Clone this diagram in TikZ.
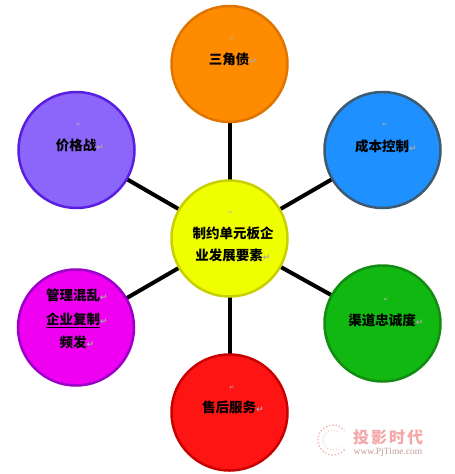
\documentclass[tikz,border=0pt]{standalone}
\usepackage{fontspec}
\usetikzlibrary{backgrounds}
\newfontfamily\cjk{Noto Sans CJK SC}
\newfontfamily\sym{DejaVu Sans}
\newfontfamily\wmserif{Liberation Serif}
\definecolor{hubfill}{HTML}{F0FF00}  \definecolor{hubline}{HTML}{C8D000}
\definecolor{orgfill}{HTML}{FF8C00}  \definecolor{orgline}{HTML}{E07400}
\definecolor{blufill}{HTML}{1E90FF}  \definecolor{bluline}{HTML}{3E5A6E}
\definecolor{prpfill}{HTML}{8C66FA}  \definecolor{prpline}{HTML}{5A1EE0}
\definecolor{magfill}{HTML}{F000F0}  \definecolor{magline}{HTML}{9C00C8}
\definecolor{grnfill}{HTML}{12B812}  \definecolor{grnline}{HTML}{128C12}
\definecolor{redfill}{HTML}{FF1414}  \definecolor{redline}{HTML}{C80000}
\definecolor{retgray}{HTML}{A8A8A8}
\definecolor{wmpink}{HTML}{F2A8A8}
\newcommand{\ret}{{\sym\color{retgray}\fontsize{9}{9}\selectfont ↵}}
\begin{document}
\begin{tikzpicture}[x=1pt,y=-1pt,
	bubble/.style={circle,minimum size=116pt,line width=2.5pt,inner sep=0pt},
	spoke/.style={line width=4pt,black},
	tagtext/.style={font=\cjk\bfseries\fontsize{13.5}{22}\selectfont,align=center,inner sep=0pt},
	retmark/.style={font=\sym\fontsize{6}{6}\selectfont,text=retgray!80,inner sep=0pt}]
\useasboundingbox (0,0) rectangle (455,474);
% circles
\node[bubble,fill=hubfill,draw=hubline] (hub) at (229.5,238.5) {};
\node[bubble,fill=orgfill,draw=orgline] (debt) at (229.5,64) {};
\node[bubble,fill=blufill,draw=bluline] (cost) at (382.5,150) {};
\node[bubble,fill=prpfill,draw=prpline] (price) at (76.5,150) {};
\node[bubble,fill=magfill,draw=magline] (manage) at (76,327.5) {};
\node[bubble,fill=grnfill,draw=grnline] (channel) at (382.5,323.5) {};
\node[bubble,fill=redfill,draw=redline] (service) at (229.5,412.5) {};
% spokes
\begin{scope}[on background layer]
\foreach \n in {debt,cost,price,manage,channel,service}
	\draw[spoke] (hub.center) -- (\n.center);
\end{scope}
% texts
\node[tagtext] (hubT) at (233,244) {制约单元板企\\业发展要素\ret};
\node[tagtext] (debtT) at (233,59) {三角债\ret};
\node[tagtext] (costT) at (386,146) {成本控制\ret};
\node[tagtext] (priceT) at (80,145) {价格战\ret};
\node[tagtext,align=center] (manageT) at (77,319) {管理混乱\ret\\[1.5pt]\underline{企业复制}\ret\\[1pt]频发\ret};
\node[tagtext] (channelT) at (386,320) {渠道忠诚度\ret};
\node[tagtext] (serviceT) at (233,407) {售后服务\ret};
% empty paragraph marks
\node[retmark] (hubM) at (231,213) {↵};
\node[retmark] (debtM) at (232,39) {↵};
\node[retmark] (costM) at (385,125) {↵};
\node[retmark] (priceM) at (79,125) {↵};
\node[retmark] (channelM) at (386,300) {↵};
\node[retmark] (serviceM) at (232,388) {↵};
% watermark
\coordinate (wmlogo) at (333,440);
\draw[wmpink,dotted,line width=1.3pt] ([shift={(40:15)}]wmlogo) arc[start angle=40,end angle=320,radius=15];
\draw[wmpink!70,dotted,line width=1pt] ([shift={(50:10)}]wmlogo) arc[start angle=50,end angle=310,radius=10];
\node[text=wmpink,font=\cjk\bfseries\fontsize{16}{16}\selectfont,inner sep=0pt] (wmtitle) at (388,437) {投\kern2pt 影\kern2pt 时\kern2pt 代};
\node[text=wmpink!60!gray,font=\wmserif\fontsize{9.5}{9.5}\selectfont,inner sep=0pt] (wmurl) at (388,452) {www.PjTime.com};
\end{tikzpicture}
\end{document}
